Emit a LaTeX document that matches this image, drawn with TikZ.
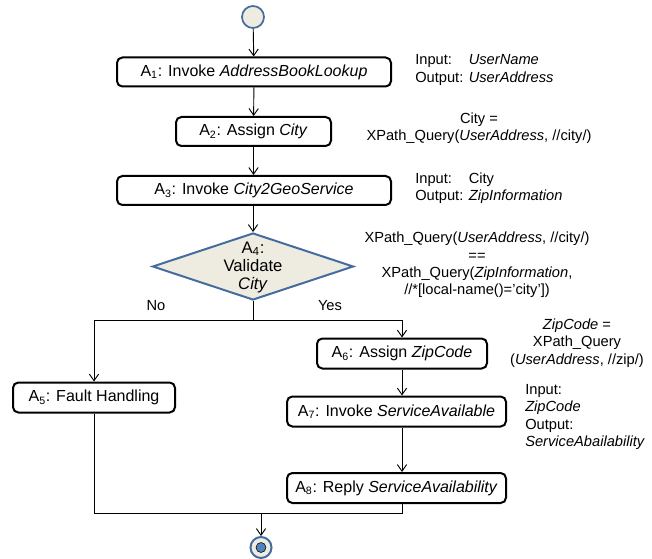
\documentclass[tikz,border=0pt]{standalone}
\usepackage{fontspec}
\setmainfont{Liberation Sans}
\usetikzlibrary{shapes.geometric,arrows.meta}
\definecolor{beige}{RGB}{238,236,225}
\definecolor{ringblue}{RGB}{68,108,158}
\definecolor{dotblue}{RGB}{79,129,189}

\begin{document}
\begin{tikzpicture}[x=0.75pt,y=-0.75pt,
    act/.style={draw,line width=1.5pt,rounded corners=4pt,inner sep=0pt,
        font=\fontsize{12}{14}\selectfont},
    flow/.style={-{Straight Barb[length=5pt,width=7pt]},line width=0.7pt},
    wire/.style={line width=0.7pt},
    note/.style={font=\fontsize{11}{13}\selectfont,inner sep=0pt}]

    \def\px{0.75pt}
    \useasboundingbox (0,0) rectangle (652,559);

% Debut et fin
        \node[circle,draw=ringblue,fill=beige,line width=1.3pt,minimum size=22*\px,inner sep=0pt] (start) at (253,17) {};
        \node[circle,draw=ringblue,fill=beige,line width=1.5pt,minimum size=21*\px,inner sep=0pt] (end) at (261,547.5) {};
        \node[circle,draw=black,fill=dotblue,line width=0.4pt,minimum size=10*\px,inner sep=0pt] (enddot) at (end) {};

% Activites
        \node[act,minimum width=274*\px,minimum height=29*\px] (a1) at (254,72) {A\textsubscript{1}: Invoke \textit{AddressBookLookup}};
        \node[act,minimum width=155*\px,minimum height=29*\px] (a2) at (253.5,131.5) {A\textsubscript{2}: Assign \textit{City}};
        \node[act,minimum width=274*\px,minimum height=29*\px] (a3) at (254,190.5) {A\textsubscript{3}: Invoke \textit{City2GeoService}};

    % test
        \node[diamond,draw=ringblue,fill=beige,line width=1.5pt,minimum width=201*\px,minimum height=67*\px,inner sep=0pt] (a4) at (253,266.5) {};
        \node[align=center,inner sep=0pt,font=\fontsize{12.5}{13.5}\selectfont] (a4t) at (253,267) {A\textsubscript{4}:\\Validate\\\textit{City}};

        \node[act,minimum width=162*\px,minimum height=30*\px] (a5) at (94,397.5) {A\textsubscript{5}: Fault Handling};
        \node[act,minimum width=170*\px,minimum height=30*\px] (a6) at (402,353.5) {A\textsubscript{6}: Assign \textit{ZipCode}};
        \node[act,minimum width=219*\px,minimum height=30*\px] (a7) at (396.5,411.5) {A\textsubscript{7}: Invoke \textit{ServiceAvailable}};
        \node[act,minimum width=219*\px,minimum height=30*\px] (a8) at (396.5,488) {A\textsubscript{8}: Reply \textit{ServiceAvailability}};

% Fleches
        \draw[flow] (start) -- (a1);
        \draw[flow] (a1) -- (a2);
        \draw[flow] (a2.south) -- (a2.south |- a3.north);
        \draw[flow] (a3.south) -- (a3.south -| a4.north) -- (a4.north);

        \coordinate (split) at (253,320);
        \draw[wire] (a4.south) -- (split);
        \draw[flow] (split) -| (a5.north);
        \draw[flow] (split) -| (a6.north);
        \node[note] (no) at (156,306) {No};
        \node[note] (yes) at (330,306) {Yes};

        \draw[flow] (a6.south) -- (a6.south |- a7.north);
        \draw[flow] (a6.south |- a7.south) -- (a6.south |- a8.north);

        \coordinate (join) at (261,513);
        \draw[wire] (a5.south) |- (join);
        \draw[wire] (a6.south |- a8.south) |- (join);
        \draw[flow] (join) -- (end.north);

% Annotations
        \node[note,anchor=west,align=left] (n1) at (415,70) {\begin{tabular}{@{}l@{ }l@{}}Input: & \textit{UserName}\\Output: & \textit{UserAddress}\end{tabular}};
        \node[note,align=center] (n2) at (479,128.5) {City =\\XPath\_Query(\textit{UserAddress}, //city/)};
        \node[note,anchor=west,align=left] (n3) at (415,188.5) {\begin{tabular}{@{}l@{ }l@{}}Input: & City\\Output: & \textit{ZipInformation}\end{tabular}};
        \node[note,align=center] (n4) at (477,265) {XPath\_Query(\textit{UserAddress}, //city/)\\==\\XPath\_Query(\textit{ZipInformation},\\//*[local-name()=’city’])};
        \node[note,align=center] (n5) at (577,343) {\textit{ZipCode} =\\XPath\_Query\\(\textit{UserAddress}, //zip/)};
        \node[note,anchor=west,align=left] (n6) at (525,417) {Input:\\\textit{ZipCode}\\Output:\\\textit{ServiceAbailability}};

\end{tikzpicture}
\end{document}
